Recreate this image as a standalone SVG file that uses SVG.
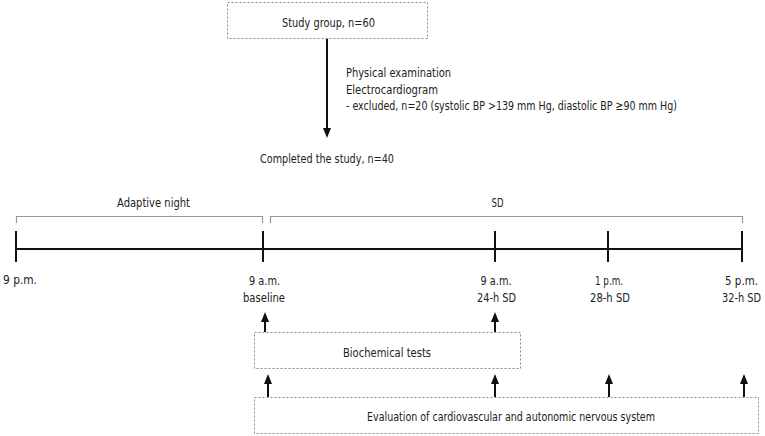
<svg xmlns="http://www.w3.org/2000/svg" width="765" height="436" viewBox="0 0 765 436">
<defs>
<style>
text{font-family:"Liberation Sans Narrow","DejaVu Sans Condensed","Liberation Sans",sans-serif;font-size:13px;fill:#222}
.c{text-anchor:middle}
.e{text-anchor:end}
.box{fill:none;stroke:#888;stroke-width:1;stroke-dasharray:2,2}
.br{fill:none;stroke:#999;stroke-width:1.2}
.ln{stroke:#111;stroke-width:2;fill:none}
.ar{stroke:#111;stroke-width:2;fill:none}
</style>
<marker id="ah" markerWidth="10" markerHeight="10" refX="5" refY="5" orient="auto" markerUnits="userSpaceOnUse" viewBox="0 0 10 10">
<path d="M0,1 L10,5 L0,9 Z" fill="#111"/>
</marker>
</defs>
<rect width="765" height="436" fill="#fff"/>

<g id="study-group">
<rect class="box" x="227.5" y="2.5" width="200" height="36"/>
<text class="c" x="328.5" y="27" textLength="93" lengthAdjust="spacingAndGlyphs">Study group, n=60</text>
</g>

<g id="exclusion-note">
<text x="346" y="77" textLength="105" lengthAdjust="spacingAndGlyphs">Physical examination</text>
<text x="346" y="94" textLength="92" lengthAdjust="spacingAndGlyphs">Electrocardiogram</text>
<text x="346" y="110" textLength="331" lengthAdjust="spacingAndGlyphs">- excluded, n=20 (systolic BP &gt;139 mm Hg, diastolic BP ≥90 mm Hg)</text>
</g>

<g id="completed">
<text x="260" y="163" textLength="134" lengthAdjust="spacingAndGlyphs">Completed the study, n=40</text>
</g>

<g id="adaptive-night">
<path class="br" d="M16.5,223 V216.5 H262.5 V223"/>
<text class="c" x="153.5" y="207" textLength="73" lengthAdjust="spacingAndGlyphs">Adaptive night</text>
</g>

<g id="sd">
<path class="br" d="M270.5,223 V216.5 H742.5 V223"/>
<text class="c" x="497.5" y="207" textLength="12" lengthAdjust="spacingAndGlyphs">SD</text>
</g>

<g id="timeline">
<line class="ln" x1="16" y1="249" x2="743" y2="249"/>
<line class="ln" x1="16" y1="231" x2="16" y2="262"/>
<line class="ln" x1="263" y1="231" x2="263" y2="262"/>
<line class="ln" x1="495" y1="231" x2="495" y2="262"/>
<line class="ln" x1="608" y1="231" x2="608" y2="262"/>
<line class="ln" x1="742" y1="231" x2="742" y2="262"/>
</g>

<g id="t-9pm"><text x="3" y="284" textLength="34" lengthAdjust="spacingAndGlyphs">9 p.m.</text></g>
<g id="t-baseline"><text class="c" x="264.5" y="285" textLength="31" lengthAdjust="spacingAndGlyphs">9 a.m.</text><text class="c" x="264" y="302" textLength="42" lengthAdjust="spacingAndGlyphs">baseline</text></g>
<g id="t-24h"><text class="c" x="496" y="285" textLength="31" lengthAdjust="spacingAndGlyphs">9 a.m.</text><text class="c" x="496.5" y="302" textLength="39" lengthAdjust="spacingAndGlyphs">24-h SD</text></g>
<g id="t-28h"><text class="c" x="609" y="285" textLength="28" lengthAdjust="spacingAndGlyphs">1 p.m.</text><text class="c" x="610" y="302" textLength="40" lengthAdjust="spacingAndGlyphs">28-h SD</text></g>
<g id="t-32h"><text class="e" x="758" y="285" textLength="33" lengthAdjust="spacingAndGlyphs">5 p.m.</text><text class="e" x="761" y="302" textLength="39" lengthAdjust="spacingAndGlyphs">32-h SD</text></g>

<g id="biochemical">
<rect class="box" x="254.5" y="332.5" width="266" height="36"/>
<text class="c" x="387" y="357" textLength="88" lengthAdjust="spacingAndGlyphs">Biochemical tests</text>
</g>

<g id="evaluation">
<rect class="box" x="254.5" y="397.5" width="504" height="36"/>
<text class="c" x="511" y="421" textLength="288" lengthAdjust="spacingAndGlyphs">Evaluation of cardiovascular and autonomic nervous system</text>
</g>

<g id="connectors">
<line class="ar" x1="327" y1="39" x2="327" y2="133" marker-end="url(#ah)"/>
<line class="ar" x1="265" y1="332" x2="265" y2="317" marker-end="url(#ah)"/>
<line class="ar" x1="495" y1="332" x2="495" y2="317" marker-end="url(#ah)"/>
<line class="ar" x1="268" y1="397" x2="268" y2="379" marker-end="url(#ah)"/>
<line class="ar" x1="495" y1="397" x2="495" y2="379" marker-end="url(#ah)"/>
<line class="ar" x1="609" y1="397" x2="609" y2="379" marker-end="url(#ah)"/>
<line class="ar" x1="744" y1="397" x2="744" y2="379" marker-end="url(#ah)"/>
</g>
</svg>
